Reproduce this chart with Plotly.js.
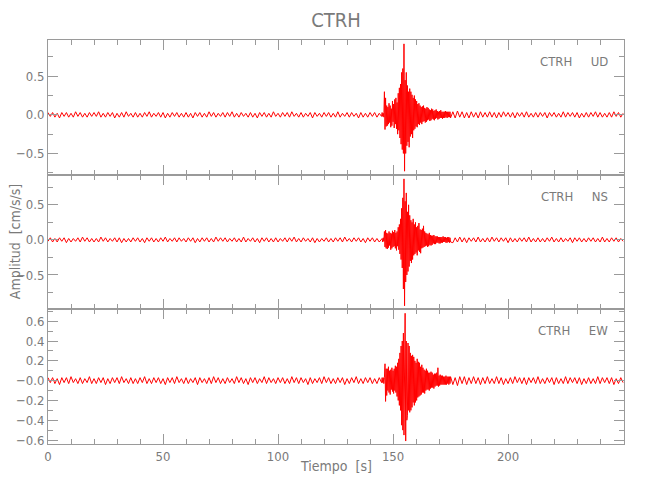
<!DOCTYPE html>
<html><head><meta charset="utf-8">
<script src="https://cdn.plot.ly/plotly-3.0.1.min.js"></script>
<style>html,body{margin:0;padding:0;background:#fff}#chart{width:650px;height:500px}</style>
</head><body><div id="chart"></div>
<script>
// ---- data (amplitudes in units of 0.01 cm/s/s) ----
const stationName = 'CTRH';
const componentNames = ['UD', 'NS', 'EW'];
// sampling of the three trace segments (s)
const preStart = 0, preStep = 1;
const eventStart = 145.25, eventStep = 0.25;
const postStart = 176, postStep = 1;

const udPre = [3,-2,3,-3,2,-4,3,-2,3,-3,2,-3,4,-2,3,-3,2,-3,3,-2,
 3,-2,4,-3,2,-3,3,-2,3,-4,2,-3,3,-3,4,-2,2,-3,3,-3,
 2,-3,3,-2,4,-3,2,-2,3,-3,3,-4,2,-3,3,-2,3,-3,2,-3,
 3,-3,2,-4,3,-2,3,-3,2,-3,4,-2,3,-3,2,-2,3,-3,3,-2,
 4,-3,2,-3,3,-2,2,-3,3,-3,2,-4,3,-2,3,-3,2,-3,4,-2,
 2,-3,3,-2,3,-3,4,-2,2,-3,3,-3,2,-2,3,-4,3,-2,2,-3,
 3,-2,3,-3,2,-3,4,-3,2,-2,3,-3,3,-2,2,-4,3,-3,2,-3,
 3,-2,3,-3,2,-2];
const udEvent = [3,-2,2,-3, 30,-19,22,-15, 12,-14,10,-12, 15,-10,12,-16, 8,-14,18,-9,
 14,-17,20,-12, 22,-18,16,-25, 28,-20,35,-30, 40,-38,55,-45, 60,-50,92,-73,
 45,-50,55,-40, 38,-35,30,-42, 34,-28,30,-25, 26,-30,22,-20, 25,-18,20,-15,
 18,-16,14,-12, 15,-13,12,-10, 10,-12,11,-9, 12,-8,9,-10, 8,-9,10,-7,
 9,-6,7,-8, 6,-7,8,-5, 7,-6,5,-7, 6,-5,7,-4, 5,-6,4,-5,
 5,-4,6,-4, 4,-5,4,-4, 4,-4,5,-3, 4,-4,4,-3, 4,-3,4,-4];
const udPost = [4,-4,5,-3,4,-4,3,-4,4,-3,3,-4,4,-3,3,-3,4,-3,3,-4,
 3,-3,4,-2,3,-3,3,-4,3,-2,3,-3,4,-3,2,-3,3,-3,3,-2,
 3,-4,3,-2,3,-3,2,-3,4,-3,3,-2,3,-3,3,-4,2,-3,3,-3,
 3,-2,4,-3,3,-3,2,-3,3,-3,4,-2,3,-3,2];

const nsPre = [-2,3,-3,2,-3,3,-2,3,-4,2,-3,2,-2,3,-3,4,-2,3,-3,2,
 -3,2,-3,4,-2,3,-3,2,-2,3,-3,3,-4,2,-3,2,-3,3,-2,3,
 -3,2,-4,3,-2,3,-3,2,-3,3,-2,4,-3,2,-2,3,-3,3,-2,2,
 -3,3,-2,3,-4,2,-3,3,-2,3,-3,2,-3,4,-2,3,-2,3,-3,2,
 -2,3,-3,2,-3,4,-3,2,-2,3,-3,2,-4,3,-2,3,-3,2,-3,3,
 -3,2,-2,3,-3,3,-2,4,-3,2,-3,3,-2,2,-3,3,-4,2,-3,2,
 -2,3,-3,2,-3,3,-2,3,-3,4,-2,2,-3,3,-2,3,-3,2,-4,3,
 -2,3,-3,2,-3,2];
const nsEvent = [2,-3,3,-2, 12,-10,14,-12, 10,-13,9,-11, 12,-8,10,-14, 9,-12,13,-10,
 11,-9,14,-12, 10,-15,12,-9, 18,-14,22,-20, 30,-28,45,-40, 60,-70,87,-94,
 55,-60,67,-50, 40,-45,50,-38, 35,-30,28,-33, 25,-28,30,-22, 22,-20,25,-18,
 18,-22,20,-15, 24,-17,15,-19, 14,-12,16,-11, 20,-10,12,-9, 10,-8,9,-10,
 8,-9,10,-7, 7,-8,6,-7, 6,-5,7,-6, 5,-6,5,-4, 5,-4,4,-5,
 4,-5,4,-4, 4,-4,5,-3, 4,-3,4,-4, 3,-4,4,-3, 4,-4,3,-3];
const nsPost = [-4,3,-3,4,-3,3,-4,3,-2,3,-3,4,-3,2,-3,3,-3,4,-2,3,
 -3,3,-2,3,-4,3,-3,2,-3,3,-2,3,-3,4,-3,2,-3,3,-3,2,
 -3,3,-2,4,-3,2,-3,3,-3,2,-2,3,-4,3,-2,3,-3,2,-3,3,
 -2,3,-3,2,-3,4,-3,2,-3,3,-2,3,-3,2,-2];

const ewPre = [3,-2,3,-3,2,-4,3,-2,3,-3,4,-2,2,-3,3,-3,2,-2,4,-3,
 2,-3,3,-2,3,-4,2,-3,3,-2,3,-3,4,-2,2,-3,3,-3,2,-3,
 3,-2,4,-3,2,-3,3,-2,3,-3,2,-4,3,-2,3,-3,4,-2,2,-3,
 3,-3,2,-2,3,-4,3,-2,2,-3,3,-3,4,-2,3,-3,2,-3,3,-2,
 2,-3,4,-2,3,-3,2,-4,3,-2,3,-3,2,-2,4,-3,3,-2,2,-3,
 3,-2,3,-3,2,-3,4,-2,3,-3,3,-2,2,-4,3,-3,2,-2,3,-3,
 4,-2,3,-3,2,-3,3,-2,3,-4,2,-3,3,-2,4,-3,2,-3,3,-2,
 3,-3,2,-3,3,-2];
const ewEvent = [3,-2,3,-3, 3,17,-21,12, -15,12,-10,14, -12,10,-14,11, -9,13,-11,10,
 -13,12,-10,15, -12,14,-16,18, -20,22,-25,28, -30,35,-45,40, -50,48,-55,55,
 68,-61,40,-40, -35,38,-30,35, -32,28,-30,25, -27,26,-22,24, -25,20,-22,18,
 -20,22,-17,19, -16,18,-15,14, -14,16,-12,13, -12,11,-13,10, -10,12,-9,10,
 -9,8,-10,8, -8,9,-7,8, -7,6,-8,7, -6,7,-5,8, -5,13,-6,5,
 -5,6,-4,5, -4,5,-4,4, -4,4,-4,5, -4,4,-3,4, -4,4,-3,4];
const ewPost = [-4,3,-5,4,-3,4,-4,3,-3,4,-3,3,-4,3,-3,4,-3,2,-3,4,
 -3,3,-4,2,-3,3,-3,4,-2,3,-3,3,-4,3,-2,3,-3,4,-3,2,
 -3,3,-2,3,-4,3,-3,2,-3,4,-3,3,-2,3,-3,3,-4,2,-3,3,
 -3,2,-3,4,-3,3,-2,3,-3,3,-4,2,-3,3,-2];

const xTickVals = [0, 50, 100, 150, 200];
const y12TickVals = [-0.5, 0, 0.5];
const y12TickText = ['\u22120.5', '0.0', '0.5'];
const y3TickVals = [-0.6, -0.4, -0.2, 0, 0.2, 0.4, 0.6];
const y3TickText = ['\u22120.6', '\u22120.4', '\u22120.2', '\u22120.0', '0.2', '0.4', '0.6'];
const xTitle = 'Tiempo  [s]';
const yTitle = 'Amplitud  [cm/s/s]';

// ---- build traces ----
function buildTrace(pre, ev, post) {
  const t = [], a = [];
  pre.forEach((v, i) => { t.push(preStart + i * preStep); a.push(v / 100); });
  ev.forEach((v, i) => { t.push(eventStart + i * eventStep); a.push(v / 100); });
  post.forEach((v, i) => { t.push(postStart + i * postStep); a.push(v / 100); });
  return { t, a };
}
const comps = [buildTrace(udPre, udEvent, udPost), buildTrace(nsPre, nsEvent, nsPost), buildTrace(ewPre, ewEvent, ewPost)];
const axSuffix = ['', '2', '3'];
const traces = comps.map((c, i) => ({
  type: 'scatter', mode: 'lines', x: c.t, y: c.a,
  xaxis: 'x' + axSuffix[i], yaxis: 'y' + axSuffix[i],
  line: { color: 'rgb(255,0,0)', width: 1 }, hoverinfo: 'skip', showlegend: false
}));

const FONT = '"Liberation Sans Narrow", "DejaVu Sans Condensed", "Roboto Condensed", Arial Narrow, sans-serif';
const GREY = '#7a7a7a';
const AX = '#9a9a9a';

function xAxis(anchor, showLabels) {
  return {
    domain: [0, 1], anchor: anchor, range: [0, 250.4], showgrid: false, zeroline: false,
    showline: true, linecolor: AX, linewidth: 1, mirror: 'ticks',
    ticks: 'inside', ticklen: 10, tickcolor: AX, tickwidth: 1,
    tickmode: 'array', tickvals: xTickVals, showticklabels: showLabels,
    tickfont: { family: FONT, size: 13, color: GREY },
    minor: { tickmode: 'linear', tick0: 0, dtick: 10, ticks: 'inside', ticklen: 5, tickcolor: AX, tickwidth: 1, showgrid: false }
  };
}
function yAxis(anchor, domain, range, tv, tt, minorStep) {
  return {
    domain: domain, anchor: anchor, range: range, showgrid: false, zeroline: false,
    showline: true, linecolor: AX, linewidth: 1, mirror: 'ticks',
    ticks: 'inside', ticklen: 10, tickcolor: AX, tickwidth: 1,
    tickmode: 'array', tickvals: tv, ticktext: tt,
    tickfont: { family: FONT, size: 13, color: GREY },
    minor: { tickmode: 'linear', tick0: 0, dtick: minorStep, ticks: 'inside', ticklen: 5, tickcolor: AX, tickwidth: 1, showgrid: false }
  };
}

const labelAnn = (i, yref) => ({
  text: stationName + '\u00a0\u00a0\u00a0\u00a0\u00a0' + componentNames[i],
  xref: 'paper', yref: yref, x: 0.976, y: 0.84, xanchor: 'right', yanchor: 'middle',
  showarrow: false, font: { family: FONT, size: 13, color: GREY }
});

const layout = {
  width: 650, height: 500,
  margin: { l: 48, r: 26, t: 40, b: 56 },
  paper_bgcolor: '#fff', plot_bgcolor: '#fff',
  title: { text: stationName, x: 0.517, xanchor: 'center', y: 0.96, yanchor: 'middle', font: { family: FONT, size: 20, color: GREY } },
  xaxis: xAxis('y', false),
  xaxis2: xAxis('y2', false),
  xaxis3: xAxis('y3', true),
  yaxis: yAxis('x', [2/3, 1], [-0.775, 0.97], y12TickVals, y12TickText, 0.25),
  yaxis2: yAxis('x2', [1/3, 2/3], [-0.99, 0.93], y12TickVals, y12TickText, 0.25),
  yaxis3: yAxis('x3', [0, 1/3], [-0.64, 0.72], y3TickVals, y3TickText, 0.1),
  annotations: [
    labelAnn(0, 'y domain'), labelAnn(1, 'y2 domain'), labelAnn(2, 'y3 domain'),
    { text: xTitle, xref: 'paper', yref: 'paper', x: 0.5, y: -0.055, xanchor: 'center', yanchor: 'middle',
      showarrow: false, font: { family: FONT, size: 14, color: GREY } },
    { text: yTitle, xref: 'paper', yref: 'paper', x: -0.057, y: 0.5, xanchor: 'center', yanchor: 'middle',
      textangle: -90, showarrow: false, font: { family: FONT, size: 14, color: GREY } }
  ]
};

Plotly.newPlot('chart', traces, layout, { displayModeBar: false, staticPlot: true });
</script>
</body></html>
